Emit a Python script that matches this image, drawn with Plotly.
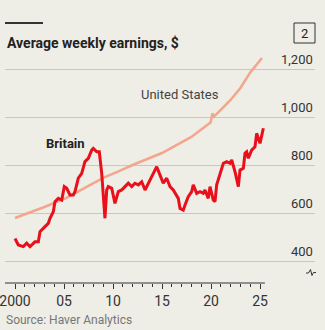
import plotly.graph_objects as go

# ---- data ----
us_years = [2000.0, 2001.5, 2003.0, 2005.2, 2007.3, 2009.0, 2010.5, 2012.0, 2015.0, 2018.0,
            2019.95, 2020.15, 2020.3, 2020.6, 2021.0, 2022.0, 2023.0, 2024.0, 2025.2]
us_vals = [579, 601, 625, 662, 708, 746, 772, 800, 850, 917,
           977, 1015, 1002, 1015, 1030, 1071, 1121, 1185, 1246]

uk_years = [2000.0, 2000.34, 2000.85, 2001.19, 2001.53, 2002.04, 2002.38, 2002.55, 2003.06, 2003.40,
            2003.57, 2003.91, 2004.08, 2004.42, 2004.77, 2005.03, 2005.28, 2005.61, 2005.95, 2006.12,
            2006.46, 2006.81, 2007.14, 2007.48, 2007.83, 2007.99, 2008.34, 2008.60, 2008.85, 2009.01,
            2009.18, 2009.36, 2009.52, 2009.87, 2010.20, 2010.54, 2010.89, 2011.22, 2011.56, 2011.91,
            2012.24, 2012.58, 2012.93, 2013.27, 2013.60, 2013.95, 2014.29, 2014.46, 2014.80, 2015.13,
            2015.48, 2015.82, 2016.15, 2016.50, 2016.66, 2016.84, 2017.17, 2017.35, 2017.68, 2018.03,
            2018.19, 2018.54, 2018.88, 2019.21, 2019.39, 2019.72, 2019.90, 2020.23, 2020.41, 2020.58,
            2020.92, 2021.26, 2021.60, 2021.94, 2022.11, 2022.45, 2022.79, 2022.96, 2023.30, 2023.47,
            2023.64, 2023.81, 2024.15, 2024.49, 2024.66, 2025.00, 2025.34]
uk_vals = [494, 467, 460, 474, 460, 480, 480, 522, 543, 557,
           578, 605, 647, 661, 654, 710, 703, 675, 675, 689,
           745, 765, 814, 828, 862, 869, 855, 855, 765, 654,
           578, 696, 710, 703, 640, 689, 696, 710, 724, 710,
           724, 717, 730, 696, 724, 751, 779, 793, 758, 724,
           745, 710, 696, 668, 661, 619, 612, 633, 668, 689,
           717, 682, 689, 682, 696, 661, 710, 654, 647, 717,
           765, 807, 814, 807, 821, 772, 710, 779, 786, 849,
           855, 828, 862, 876, 932, 890, 953]

y_ticks = [400, 600, 800, 1000, 1200]
y_labels = ["400", "600", "800", "1,000", "1,200"]
x_ticks = [2000, 2005, 2010, 2015, 2020, 2025]
x_labels = ["2000", "05", "10", "15", "20", "25"]
minor_years = list(range(2000, 2026))

# ---- layout constants ----
W, H = 325, 330
ML, MR, MT, MB = 5, 10, 50, 47
PW, PH = W - ML - MR, H - MT - MB
X0 = 2000 - 10 / 9.8
X1 = X0 + PW / 9.8
Y0 = 400 - 22 * (800 / 192)
Y1 = Y0 + PH * (800 / 192)

BG = "#eeede6"
FONT = "Roboto"


def px(x, y):
    """pixel -> paper coords"""
    return (x - ML) / PW, (H - MB - y) / PH


fig = go.Figure()
fig.add_trace(go.Scatter(x=us_years, y=us_vals, mode="lines",
                         line=dict(color="#f4a68c", width=2.5), hoverinfo="skip"))
fig.add_trace(go.Scatter(x=uk_years, y=uk_vals, mode="lines",
                         line=dict(color="#e8101a", width=3), hoverinfo="skip"))

shapes = []
# x axis line
shapes.append(dict(type="line", xref="x", yref="paper", x0=X0, x1=2025.5, y0=0, y1=0,
                   line=dict(color="#333333", width=1)))
# top-left rule
a = px(5, 23); b = px(43, 23)
shapes.append(dict(type="line", xref="paper", yref="paper", x0=a[0], x1=b[0], y0=a[1], y1=b[1],
                   line=dict(color="#333333", width=2)))
# box around "2"
a = px(294, 23); b = px(315, 43)
shapes.append(dict(type="rect", xref="paper", yref="paper", x0=a[0], x1=b[0], y0=a[1], y1=b[1],
                   line=dict(color="#333333", width=1)))
# axis break glyph
pts = [(306, 273), (308.5, 273), (310.5, 269.5), (312, 275.5), (313.5, 272.5), (316, 272.5)]
path = "M " + " L ".join(f"{px(x, y)[0]:.4f},{px(x, y)[1]:.4f}" for x, y in pts)
shapes.append(dict(type="path", xref="paper", yref="paper", path=path,
                   line=dict(color="#333333", width=1)))

ann = []
for v, t in zip(y_ticks, y_labels):
    ann.append(dict(x=1, xref="paper", y=v, yref="y", text=t, showarrow=False,
                    xanchor="right", yanchor="bottom", yshift=0,
                    font=dict(family=FONT, size=13, color="#333333")))
ann.append(dict(x=px(5, 0)[0], xref="paper", y=px(0, 43)[1], yref="paper",
                text="<b>Average weekly earnings, $</b>", showarrow=False,
                xanchor="left", yanchor="middle", font=dict(family=FONT, size=14, color="#222222")))
ann.append(dict(x=px(304.5, 0)[0], xref="paper", y=px(0, 33)[1], yref="paper",
                text="2", showarrow=False, xanchor="center", yanchor="middle",
                font=dict(family=FONT, size=13, color="#222222")))
ann.append(dict(x=px(180, 0)[0], xref="paper", y=px(0, 94)[1], yref="paper",
                text="United States", showarrow=False, xanchor="center", yanchor="middle",
                font=dict(family=FONT, size=13, color="#444444")))
ann.append(dict(x=px(65, 0)[0], xref="paper", y=px(0, 143)[1], yref="paper",
                text="<b>Britain</b>", showarrow=False, xanchor="center", yanchor="middle",
                font=dict(family=FONT, size=13, color="#222222")))
ann.append(dict(x=px(4, 0)[0], xref="paper", y=px(0, 320)[1], yref="paper",
                text="Source: Haver Analytics", showarrow=False, xanchor="left", yanchor="middle",
                font=dict(family=FONT, size=12, color="#777777")))

fig.update_layout(
    width=W, height=H,
    margin=dict(l=ML, r=MR, t=MT, b=MB, pad=0, autoexpand=False),
    paper_bgcolor=BG, plot_bgcolor=BG,
    showlegend=False,
    shapes=shapes, annotations=ann,
    xaxis=dict(range=[X0, X1], tickvals=x_ticks, ticktext=x_labels, ticks="outside",
               ticklen=5, tickcolor="#333333", tickwidth=1, showgrid=False, zeroline=False,
               showline=False, tickfont=dict(family=FONT, size=14, color="#333333"),
               ticklabeloverflow="allow", automargin=False,
               minor=dict(tickvals=minor_years, ticks="outside", ticklen=3,
                          tickcolor="#333333", tickwidth=1, showgrid=False),
               fixedrange=True),
    yaxis=dict(range=[Y0, Y1], tickvals=y_ticks, showticklabels=False, showgrid=True,
               gridcolor="#c9c8c0", gridwidth=1, zeroline=False, showline=False, ticks="",
               automargin=False, fixedrange=True),
)

fig.write_html("out.html", config={"displayModeBar": False})
